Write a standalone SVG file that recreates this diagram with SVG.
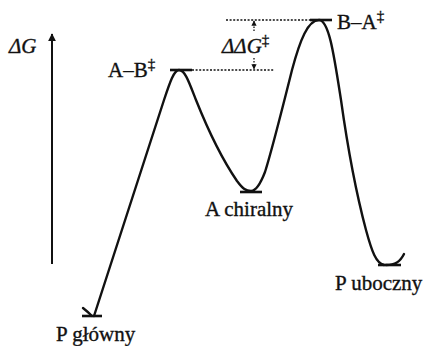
<svg xmlns="http://www.w3.org/2000/svg" width="430" height="346" viewBox="0 0 430 346">
<style>
text{font-family:'Liberation Serif','Times New Roman',serif;fill:#111;stroke:#111;stroke-width:0.35;font-size:21px}
.it{font-style:italic}
.sup{font-size:15px}
.bar{stroke:#111;stroke-width:2.6;fill:none}
.curve{stroke:#111;stroke-width:2.4;fill:none;stroke-linecap:round;stroke-linejoin:round}
.dot{stroke:#111;stroke-width:1.6;stroke-dasharray:2,1.6;fill:none}
</style>
<defs>
<marker id="ah" viewBox="0 0 10 10" refX="9" refY="5" markerWidth="4" markerHeight="5" orient="auto" markerUnits="strokeWidth">
<path d="M0,0 L10,5 L0,10 z" fill="#111"/>
</marker>
<marker id="sm" viewBox="0 0 10 10" refX="9" refY="5" markerWidth="4" markerHeight="4" orient="auto" markerUnits="strokeWidth">
<path d="M0,0 L10,5 L0,10 z" fill="#111"/>
</marker>
</defs>
<g id="axis">
<line x1="52" y1="264" x2="52" y2="34" stroke="#111" stroke-width="2" marker-end="url(#ah)"/>
<text class="it" x="9" y="53" font-size="22">ΔG</text>
</g>
<g id="connectors">
<path class="curve" d="M94,316 L164,100 C170,82 174,70 179,70 C185,70 189,82 196,100 C208,130 224,162 237,181 C243,189 246,191 251,191 C256,191 260,185 265,172 C272,150 282,110 292,70 C300,40 308,20 319,20 C329,20 334,55 341,100 C348,150 358,200 366,230 C372,252 376,263 384,265"/>
<path class="curve" d="M386,265 C395,265 400,262 404,254"/>
<path class="curve" d="M83,308 Q88,312 92,316"/>
<line class="dot" x1="192" y1="70" x2="274" y2="70"/>
<line class="dot" x1="226" y1="20" x2="310" y2="20"/>
<line stroke="#111" stroke-width="1.3" stroke-dasharray="1.5,1.5" x1="254" y1="31" x2="254" y2="21" marker-end="url(#sm)"/>
<line stroke="#111" stroke-width="1.3" stroke-dasharray="1.5,1.5" x1="254" y1="58" x2="254" y2="69" marker-end="url(#sm)"/>
</g>
<g id="P_glowny">
<line class="bar" x1="82" y1="316" x2="102" y2="316"/>
<text x="56" y="341">P główny</text>
</g>
<g id="AB_TS">
<line class="bar" x1="170" y1="70" x2="192" y2="70"/>
<text x="108" y="77">A–B<tspan class="sup" dy="-8">‡</tspan></text>
</g>
<g id="A_chiralny">
<line class="bar" x1="240" y1="192" x2="262" y2="192"/>
<text x="205" y="216">A chiralny</text>
</g>
<g id="BA_TS">
<line class="bar" x1="310" y1="20" x2="332" y2="20"/>
<text x="337" y="29">B–A<tspan class="sup" dy="-8">‡</tspan></text>
</g>
<g id="P_uboczny">
<line class="bar" x1="378" y1="265" x2="401" y2="265"/>
<text x="335" y="290">P uboczny</text>
</g>
<g id="ddG">
<text class="it" x="222" y="53" font-size="20">ΔΔG<tspan class="sup" dy="-8" font-style="normal">‡</tspan></text>
</g>
</svg>
